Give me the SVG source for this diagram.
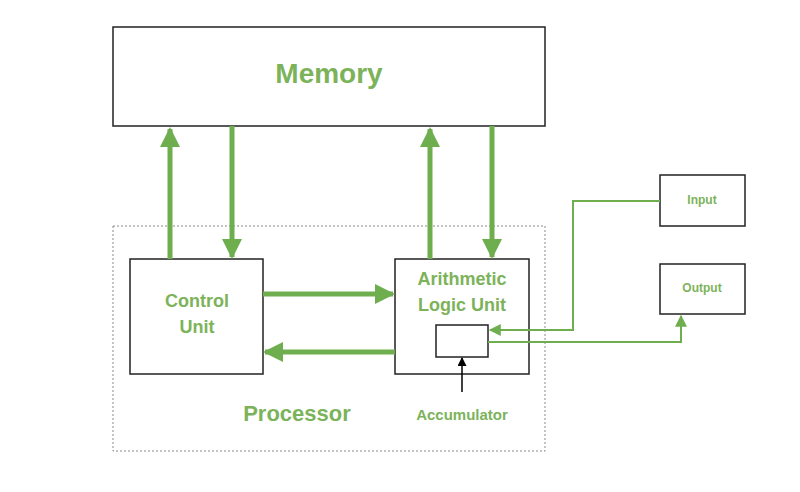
<svg xmlns="http://www.w3.org/2000/svg" width="800" height="492" viewBox="0 0 800 492">
<style>
.box{fill:#fff;stroke:#222;stroke-width:1.5}
.t{font-family:"Liberation Sans",Arial,sans-serif;font-weight:bold;fill:#7cb35a;text-anchor:middle}
.th{stroke:#6fae4f;stroke-width:5;fill:none}
.tn{stroke:#6fae4f;stroke-width:2;fill:none}
</style>
<defs>
<marker id="ah" viewBox="0 0 10 10" refX="9" refY="5" markerWidth="4" markerHeight="4" orient="auto" markerUnits="strokeWidth"><path d="M0,0L10,5L0,10z" fill="#6fae4f"/></marker>
<marker id="as" viewBox="0 0 10 10" refX="9" refY="5" markerWidth="7" markerHeight="6" orient="auto" markerUnits="strokeWidth"><path d="M0,0L10,5L0,10z" fill="#6fae4f"/></marker>
<marker id="ab" viewBox="0 0 10 10" refX="9" refY="5" markerWidth="7" markerHeight="6" orient="auto" markerUnits="strokeWidth"><path d="M0,0L10,5L0,10z" fill="#000"/></marker>
</defs>
<rect width="800" height="492" fill="#fff"/>
<g id="processor"><rect x="113" y="226" width="432" height="225" fill="none" stroke="#888" stroke-width="1" stroke-dasharray="2,2"/><text class="t" x="297" y="421" font-size="22">Processor</text></g>
<g id="memory"><rect class="box" x="113" y="27" width="432" height="99"/><text class="t" x="329" y="83" font-size="28">Memory</text></g>
<g id="cu"><rect class="box" x="130" y="259" width="133" height="115"/><text class="t" x="197" y="307" font-size="18">Control</text><text class="t" x="197" y="333" font-size="18">Unit</text></g>
<g id="alu"><rect class="box" x="395" y="259" width="134" height="115"/><text class="t" x="462" y="285" font-size="18">Arithmetic</text><text class="t" x="462" y="311" font-size="18">Logic Unit</text></g>
<g id="acc"><rect class="box" x="436" y="325" width="52" height="32"/><text class="t" x="462" y="420" font-size="15">Accumulator</text></g>
<g id="input"><rect class="box" x="660" y="175" width="85" height="51"/><text class="t" x="702" y="204" font-size="12">Input</text></g>
<g id="output"><rect class="box" x="660" y="264" width="85" height="50"/><text class="t" x="702" y="292" font-size="12">Output</text></g>
<g id="connectors">
<line class="th" x1="170" y1="259" x2="170" y2="129" marker-end="url(#ah)"/>
<line class="th" x1="232" y1="126" x2="232" y2="257" marker-end="url(#ah)"/>
<line class="th" x1="430" y1="259" x2="430" y2="129" marker-end="url(#ah)"/>
<line class="th" x1="492" y1="126" x2="492" y2="257" marker-end="url(#ah)"/>
<line class="th" x1="263" y1="294" x2="393" y2="294" marker-end="url(#ah)"/>
<line class="th" x1="395" y1="352" x2="265" y2="352" marker-end="url(#ah)"/>
<polyline class="tn" points="660,201 573,201 573,330 490,330" marker-end="url(#as)"/>
<polyline class="tn" points="488,342 681,342 681,316" marker-end="url(#as)"/>
<line x1="462" y1="392" x2="462" y2="358" stroke="#000" stroke-width="1.5" marker-end="url(#ab)"/>
</g>
</svg>
